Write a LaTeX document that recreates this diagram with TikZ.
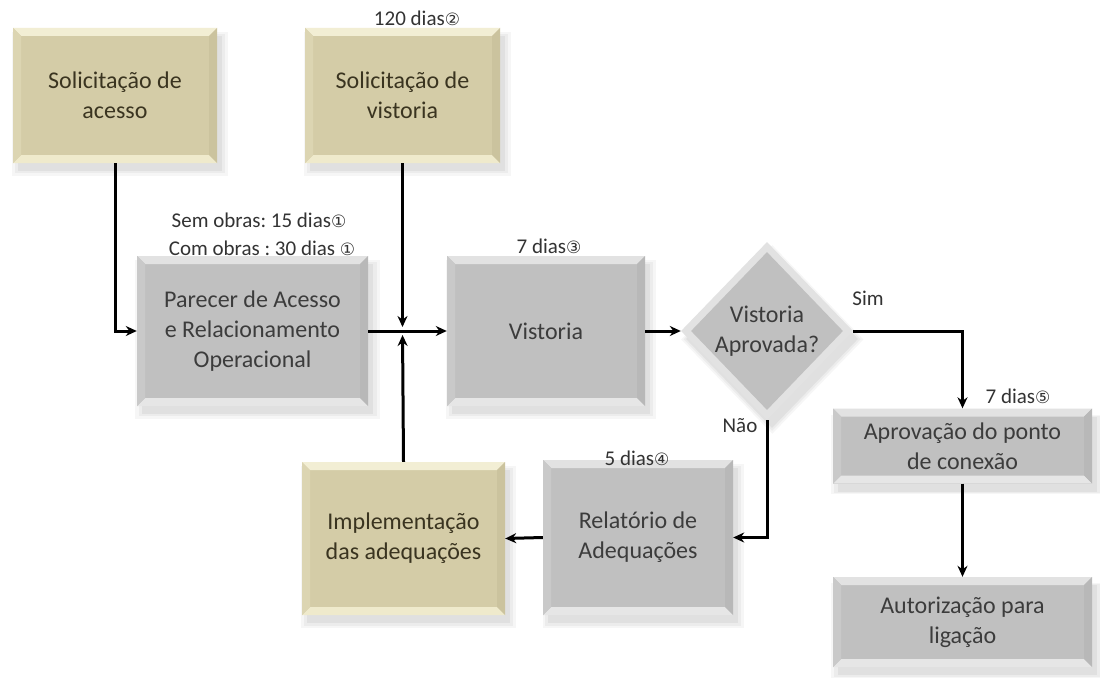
\documentclass[tikz,border=0pt]{standalone}
\usepackage{fontspec}
\setmainfont{Carlito}
\newfontfamily\symf{DejaVu Sans}
\usetikzlibrary{arrows.meta,shapes.geometric,shadows}
\frenchspacing
\definecolor{khakifill}{HTML}{D4CCA7}
\definecolor{khakitop}{HTML}{F2EED4}
\definecolor{khakibot}{HTML}{EFEACC}
\definecolor{khakiside}{HTML}{DCD5B2}
\definecolor{khakidark}{HTML}{CBC39E}
\definecolor{khakitext}{HTML}{3A3420}
\definecolor{grayfill}{HTML}{C0C0C0}
\definecolor{graytop}{HTML}{E2E2E2}
\definecolor{graybot}{HTML}{E6E6E6}
\definecolor{grayside}{HTML}{C9C9C9}
\definecolor{graydark}{HTML}{B8B8B8}
\definecolor{graytext}{HTML}{3C3C3C}
\definecolor{labeltext}{HTML}{333333}
\tikzset{
  bevel/.style n args={4}{path picture={
    \fill[#1] (path picture bounding box.north west) -- (path picture bounding box.north east)
      -- ([shift={(-8pt,-8pt)}]path picture bounding box.north east) -- ([shift={(8pt,-8pt)}]path picture bounding box.north west) -- cycle;
    \fill[#2] (path picture bounding box.south west) -- (path picture bounding box.south east)
      -- ([shift={(-8pt,8pt)}]path picture bounding box.south east) -- ([shift={(8pt,8pt)}]path picture bounding box.south west) -- cycle;
    \fill[#3] (path picture bounding box.north west) -- ([shift={(8pt,-8pt)}]path picture bounding box.north west)
      -- ([shift={(8pt,8pt)}]path picture bounding box.south west) -- (path picture bounding box.south west) -- cycle;
    \fill[#4] (path picture bounding box.north east) -- ([shift={(-8pt,-8pt)}]path picture bounding box.north east)
      -- ([shift={(-8pt,8pt)}]path picture bounding box.south east) -- (path picture bounding box.south east) -- cycle;
  }},
  softshadow/.style={
    drop shadow={opacity=0.07, shadow xshift=5pt, shadow yshift=-8pt, shadow scale=1.06},
    drop shadow={opacity=0.08, shadow xshift=5pt, shadow yshift=-8pt, shadow scale=1.03},
    drop shadow={opacity=0.10, shadow xshift=5pt, shadow yshift=-8pt, shadow scale=1.0}},
  boxbase/.style={rectangle, inner sep=0pt, align=center,
    font=\fontsize{24}{30}\selectfont, softshadow},
  khakibox/.style={boxbase, fill=khakifill, text=khakitext,
    bevel={khakitop}{khakibot}{khakiside}{khakidark}},
  graybox/.style={boxbase, fill=grayfill, text=graytext,
    bevel={graytop}{graybot}{grayside}{graydark}},
  decision/.style={diamond, inner sep=0pt, align=center,
    minimum width=172pt, minimum height=178pt, fill=graytop, text=graytext,
    font=\fontsize{24}{30}\selectfont, softshadow,
    path picture={
      \fill[grayfill] ([yshift=-10pt]path picture bounding box.north) -- ([xshift=-10pt]path picture bounding box.east)
        -- ([yshift=10pt]path picture bounding box.south) -- ([xshift=10pt]path picture bounding box.west) -- cycle;
    }},
  lbl/.style={inner sep=0pt, text=labeltext, font=\fontsize{21}{25}\selectfont},
  arr/.style={line width=3pt, draw=black, -{Stealth[length=11pt,width=10pt]}}
}
\newcommand{\cn}[1]{{\symf\fontsize{17}{20}\selectfont #1}}
\begin{document}
\begin{tikzpicture}[x=1pt,y=-1pt]
\useasboundingbox (0,0) rectangle (1100,690);
\fill[white] (0,0) rectangle (1100,690);

% boxes
\node[khakibox, minimum width=204pt, minimum height=135pt] (sa) at (115,95.5) {Solicitação de\\acesso};
\node[khakibox, minimum width=195pt, minimum height=135pt] (sv) at (402.5,95.5) {Solicitação de\\vistoria};
\node[graybox, minimum width=231pt, minimum height=150pt] (par) at (252.5,331) {Parecer de Acesso\\e Relacionamento\\Operacional};
\node[graybox, minimum width=198pt, minimum height=150pt] (vis) at (546,331) {Vistoria};
\node[decision] (dec) at (767,331) {Vistoria\\Aprovada?};
\node[graybox, minimum width=259pt, minimum height=75pt] (apr) at (962.5,446) {Aprovação do ponto\\de conexão};
\node[graybox, minimum width=259pt, minimum height=90pt] (aut) at (962.5,622) {Autorização para\\ligação};
\node[graybox, minimum width=190pt, minimum height=155pt] (rel) at (638,537.5) {Relatório de\\Adequações};
\node[khakibox, minimum width=203pt, minimum height=153pt] (imp) at (403.5,538.5) {Implementação\\das adequações};

% labels
\node[lbl] (l2) at (417,18) {120 dias\cn{②}};
\node[lbl] (l1a) at (259,220) {Sem obras: 15 dias\cn{①}};
\node[lbl] (l1b) at (262,248) {Com obras : 30 dias \cn{①}};
\node[lbl] (l3) at (549,246) {7 dias\cn{③}};
\node[lbl] (lsim) at (868,298) {Sim};
\node[lbl] (lnao) at (740,426) {Não};
\node[lbl] (l4) at (637,458) {5 dias\cn{④}};
\node[lbl] (l5) at (1018,396) {7 dias\cn{⑤}};

% connectors
\coordinate (j) at (sv.south |- par.east);
\draw[arr] (sa.south) |- (par.west);
\draw[arr] (par.east) -- (vis.west);
\draw[arr, shorten >=4pt] (sv.south) -- (j);
\draw[arr, shorten >=4pt] (imp.north) -- (j);
\draw[arr] (vis.east) -- (dec.west);
\draw[arr] (dec.east) -| (apr.north);
\draw[arr] (dec.south) |- (rel.east);
\draw[arr] (rel.west) -- (imp.east);
\draw[arr] (apr.south) -- (aut.north);
\end{tikzpicture}
\end{document}
